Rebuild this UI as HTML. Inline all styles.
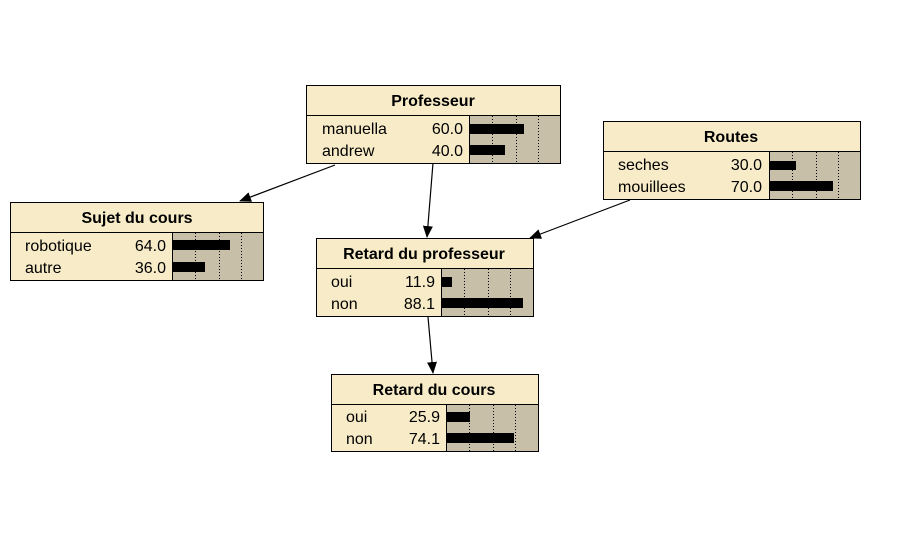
<!DOCTYPE html>
<html><head><meta charset="utf-8"><style>
html,body{margin:0;padding:0;background:#fff;}
svg{display:block;}
text{font-family:"Liberation Sans",Arial,sans-serif;font-size:16px;fill:#000;}
.t{font-weight:bold;text-anchor:middle;}
.v{text-anchor:end;}
.d{stroke:#000;stroke-width:1;stroke-dasharray:1,2;}
</style></head><body>
<svg width="901" height="544" viewBox="0 0 901 544" xmlns="http://www.w3.org/2000/svg">
<defs><marker id="a" markerWidth="12" markerHeight="12" refX="11" refY="5" orient="auto" markerUnits="userSpaceOnUse"><path d="M0,0 L12,5 L0,10 z" fill="#000"/></marker></defs>
<g stroke="#000" stroke-width="1.2" fill="none">
<line x1="335" y1="165" x2="240" y2="201" marker-end="url(#a)"/>
<line x1="433" y1="163" x2="427" y2="237" marker-end="url(#a)"/>
<line x1="630" y1="200" x2="530" y2="238" marker-end="url(#a)"/>
<line x1="428" y1="317" x2="433" y2="373" marker-end="url(#a)"/>
</g>

<!-- Professeur -->
<g>
<rect x="306.5" y="85.5" width="254" height="78" fill="#f8ecc8" stroke="#000"/>
<line x1="306" y1="115.5" x2="560" y2="115.5" stroke="#000"/>
<rect x="469.5" y="115.5" width="91" height="48" fill="#c8bfa8" stroke="#000"/>
<line class="d" x1="492.5" y1="116" x2="492.5" y2="163"/><line class="d" x1="516.5" y1="116" x2="516.5" y2="163"/><line class="d" x1="538.5" y1="116" x2="538.5" y2="163"/>
<rect x="470" y="124" width="54" height="10" fill="#000"/>
<rect x="470" y="145" width="35" height="10" fill="#000"/>
<text class="t" x="433" y="106">Professeur</text>
<text x="322" y="134">manuella</text><text class="v" x="463" y="134">60.0</text>
<text x="322" y="156">andrew</text><text class="v" x="463" y="156">40.0</text>
</g>

<!-- Routes -->
<g>
<rect x="603.5" y="121.5" width="257" height="78" fill="#f8ecc8" stroke="#000"/>
<line x1="603" y1="151.5" x2="860" y2="151.5" stroke="#000"/>
<rect x="769.5" y="151.5" width="91" height="48" fill="#c8bfa8" stroke="#000"/>
<line class="d" x1="792.5" y1="152" x2="792.5" y2="199"/><line class="d" x1="816.5" y1="152" x2="816.5" y2="199"/><line class="d" x1="838.5" y1="152" x2="838.5" y2="199"/>
<rect x="770" y="161" width="26" height="9" fill="#000"/>
<rect x="770" y="181" width="63" height="10" fill="#000"/>
<text class="t" x="731" y="142">Routes</text>
<text x="618" y="170">seches</text><text class="v" x="762" y="170">30.0</text>
<text x="618" y="192">mouillees</text><text class="v" x="762" y="192">70.0</text>
</g>

<!-- Sujet du cours -->
<g>
<rect x="10.5" y="202.5" width="253" height="78" fill="#f8ecc8" stroke="#000"/>
<line x1="10" y1="232.5" x2="263" y2="232.5" stroke="#000"/>
<rect x="172.5" y="232.5" width="91" height="48" fill="#c8bfa8" stroke="#000"/>
<line class="d" x1="195.5" y1="233" x2="195.5" y2="280"/><line class="d" x1="219.5" y1="233" x2="219.5" y2="280"/><line class="d" x1="241.5" y1="233" x2="241.5" y2="280"/>
<rect x="173" y="240" width="57" height="10" fill="#000"/>
<rect x="173" y="262" width="32" height="10" fill="#000"/>
<text class="t" x="137" y="223">Sujet du cours</text>
<text x="25" y="251">robotique</text><text class="v" x="166" y="251">64.0</text>
<text x="25" y="273">autre</text><text class="v" x="166" y="273">36.0</text>
</g>

<!-- Retard du professeur -->
<g>
<rect x="316.5" y="238.5" width="217" height="78" fill="#f8ecc8" stroke="#000"/>
<line x1="316" y1="268.5" x2="533" y2="268.5" stroke="#000"/>
<rect x="441.5" y="268.5" width="92" height="48" fill="#c8bfa8" stroke="#000"/>
<line class="d" x1="464.5" y1="269" x2="464.5" y2="316"/><line class="d" x1="488.5" y1="269" x2="488.5" y2="316"/><line class="d" x1="510.5" y1="269" x2="510.5" y2="316"/>
<rect x="442" y="277" width="10" height="10" fill="#000"/>
<rect x="442" y="298" width="81" height="10" fill="#000"/>
<text class="t" x="424" y="259">Retard du professeur</text>
<text x="331" y="287">oui</text><text class="v" x="435" y="287">11.9</text>
<text x="331" y="309">non</text><text class="v" x="435" y="309">88.1</text>
</g>

<!-- Retard du cours -->
<g>
<rect x="331.5" y="374.5" width="207" height="77" fill="#f8ecc8" stroke="#000"/>
<line x1="331" y1="404.5" x2="538" y2="404.5" stroke="#000"/>
<rect x="446.5" y="404.5" width="92" height="47" fill="#c8bfa8" stroke="#000"/>
<line class="d" x1="469.5" y1="405" x2="469.5" y2="451"/><line class="d" x1="493.5" y1="405" x2="493.5" y2="451"/><line class="d" x1="515.5" y1="405" x2="515.5" y2="451"/>
<rect x="447" y="412" width="23" height="10" fill="#000"/>
<rect x="447" y="433" width="67" height="10" fill="#000"/>
<text class="t" x="434" y="395">Retard du cours</text>
<text x="346" y="422">oui</text><text class="v" x="440" y="422">25.9</text>
<text x="346" y="444">non</text><text class="v" x="440" y="444">74.1</text>
</g>
</svg>
</body></html>
